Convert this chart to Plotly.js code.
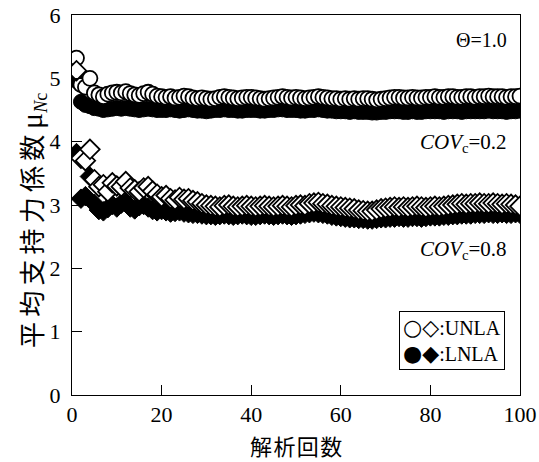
<!DOCTYPE html>
<html>
<head>
<meta charset="utf-8">
<script src="https://cdn.plot.ly/plotly-3.0.1.min.js"></script>
<style>html,body{margin:0;padding:0;background:#fff;}#chart{width:539px;height:462px;}</style>
</head>
<body>
<div id="chart"></div>
<script>
// analysis count 1..100
const runs = Array.from({length: 100}, (_, i) => i + 1);

// UNLA, COVc = 0.2 (open circles)
const unla02 = [
5.32,4.90,4.86,5.00,4.77,4.74,4.71,4.75,4.77,4.78,
4.77,4.79,4.76,4.74,4.73,4.76,4.78,4.75,4.72,4.71,
4.70,4.71,4.69,4.70,4.72,4.71,4.69,4.68,4.69,4.68,
4.67,4.68,4.70,4.71,4.70,4.69,4.68,4.69,4.70,4.70,
4.69,4.68,4.67,4.68,4.69,4.70,4.71,4.70,4.69,4.70,
4.69,4.68,4.69,4.70,4.71,4.70,4.69,4.68,4.68,4.67,
4.68,4.67,4.68,4.67,4.68,4.68,4.67,4.66,4.67,4.68,
4.69,4.70,4.70,4.69,4.69,4.70,4.69,4.69,4.70,4.70,
4.71,4.70,4.70,4.71,4.71,4.70,4.70,4.71,4.71,4.70,
4.71,4.71,4.72,4.71,4.71,4.71,4.70,4.71,4.71,4.72];

// LNLA, COVc = 0.2 (filled circles)
const lnla02 = [
4.96,4.63,4.58,4.56,4.53,4.52,4.50,4.51,4.52,4.53,
4.52,4.53,4.52,4.51,4.50,4.51,4.52,4.51,4.50,4.50,
4.50,4.51,4.50,4.49,4.50,4.51,4.50,4.49,4.49,4.48,
4.49,4.50,4.50,4.51,4.50,4.50,4.49,4.49,4.50,4.50,
4.50,4.49,4.49,4.50,4.50,4.51,4.51,4.50,4.50,4.50,
4.49,4.49,4.50,4.50,4.51,4.50,4.49,4.49,4.48,4.48,
4.48,4.47,4.48,4.47,4.47,4.47,4.46,4.46,4.47,4.47,
4.48,4.48,4.48,4.47,4.47,4.48,4.47,4.47,4.48,4.48,
4.48,4.48,4.47,4.48,4.48,4.48,4.47,4.48,4.48,4.48,
4.48,4.48,4.49,4.48,4.48,4.48,4.47,4.48,4.48,4.49];

// UNLA, COVc = 0.8 (open diamonds)
const unla08 = [
5.12,3.74,3.70,3.88,3.40,3.29,3.32,3.21,3.35,3.30,
3.29,3.37,3.27,3.24,3.21,3.27,3.29,3.22,3.17,3.13,
3.15,3.10,3.08,3.12,3.09,3.10,3.07,3.05,3.02,3.00,
2.99,2.98,2.97,2.99,3.00,2.98,2.97,2.98,2.99,2.98,
2.97,2.98,2.99,2.98,2.97,2.98,2.99,2.98,2.97,2.99,
3.00,2.99,3.02,3.03,3.04,3.02,3.01,2.99,2.98,2.97,
2.96,2.95,2.94,2.92,2.91,2.90,2.90,2.92,2.94,2.95,
2.96,2.97,2.96,2.97,2.96,2.97,2.98,2.97,2.96,2.97,
2.98,2.97,2.98,2.99,3.00,3.01,3.02,3.01,3.02,3.02,
3.03,3.02,3.02,3.03,3.02,3.01,3.02,3.01,3.00,2.98];

// LNLA, COVc = 0.8 (filled diamonds)
const lnla08 = [
3.82,3.10,3.14,3.45,3.02,2.92,2.90,2.95,3.00,2.96,
3.02,3.04,2.96,2.93,2.98,3.00,2.96,2.92,2.90,2.92,
2.90,2.88,2.89,2.90,2.88,2.87,2.86,2.86,2.85,2.84,
2.84,2.83,2.84,2.85,2.84,2.83,2.84,2.85,2.84,2.83,
2.83,2.84,2.85,2.84,2.83,2.84,2.85,2.84,2.83,2.84,
2.85,2.86,2.87,2.88,2.87,2.86,2.85,2.83,2.82,2.81,
2.80,2.79,2.79,2.78,2.78,2.77,2.77,2.78,2.79,2.79,
2.80,2.80,2.81,2.80,2.80,2.81,2.81,2.80,2.81,2.82,
2.82,2.82,2.83,2.83,2.84,2.84,2.85,2.85,2.85,2.86,
2.86,2.86,2.87,2.86,2.86,2.87,2.86,2.86,2.87,2.86];

const xTicks = [0, 20, 40, 60, 80, 100];
const yTicks = [0, 1, 2, 3, 4, 5, 6];

const serif = 'Liberation Serif, Times New Roman, serif';

function filled(y, sym, size) {
  return {x: runs, y: y, type: 'scatter', mode: 'markers', showlegend: false,
    marker: {symbol: sym, size: size, color: '#000', line: {color: '#000', width: 1}}};
}
function open(y, sym, size) {
  return {x: runs, y: y, type: 'scatter', mode: 'markers', showlegend: false,
    marker: {symbol: sym, size: size, color: '#fff', line: {color: '#000', width: 1.8}}};
}

const data = [
  filled(lnla02, 'circle', 15),
  filled(lnla08, 'diamond', 15),
  open(unla02, 'circle', 15),
  open(unla08, 'diamond', 15)
];

const axisCommon = {
  showgrid: false, zeroline: false, showline: true, linecolor: '#000', linewidth: 1,
  mirror: true, ticks: 'inside', ticklen: 10, tickwidth: 1, tickcolor: '#000',
  tickfont: {family: serif, size: 22, color: '#000'}
};

const layout = {
  width: 539, height: 462,
  margin: {l: 72, r: 19, t: 15, b: 67},
  paper_bgcolor: '#fff', plot_bgcolor: '#fff',
  xaxis: Object.assign({}, axisCommon, {range: [0, 100], tickvals: xTicks, ticktext: xTicks.map(String), ticklabelstandoff: 0}),
  yaxis: Object.assign({}, axisCommon, {range: [0, 6], tickvals: yTicks, ticktext: yTicks.map(String), ticklabelstandoff: 6}),
  annotations: [
    {xref: 'paper', yref: 'paper', x: 0.5, y: -0.132, xanchor: 'center', yanchor: 'middle', showarrow: false,
     text: '解\u200a析\u200a回\u200a数', font: {family: 'Noto Sans CJK JP', size: 22, color: '#000'}},
    {xref: 'paper', yref: 'paper', x: -0.092, y: 0.46, xanchor: 'center', yanchor: 'middle', showarrow: false, textangle: -90,
     text: '平\u2009均\u2009支\u2009持\u2009力\u2009係\u2009数 <span style="font-family:Liberation Serif;font-size:30px">μ</span><span style="font-family:Liberation Serif;font-size:26px"><sub><i>N</i>c</sub></span>',
     font: {family: 'Noto Sans CJK JP', size: 26, color: '#000'}},
    {xref: 'paper', yref: 'paper', x: 0.975, y: (395 - 40) / 380, xanchor: 'right', yanchor: 'middle', showarrow: false,
     text: 'Θ=1.0', font: {family: serif, size: 20, color: '#000'}},
    {xref: 'paper', yref: 'paper', x: 0.975, y: (395 - 143) / 380, xanchor: 'right', yanchor: 'middle', showarrow: false,
     text: '<i>COV</i><sub>c</sub>=0.2', font: {family: serif, size: 21, color: '#000'}},
    {xref: 'paper', yref: 'paper', x: 0.975, y: (395 - 250) / 380, xanchor: 'right', yanchor: 'middle', showarrow: false,
     text: '<i>COV</i><sub>c</sub>=0.8', font: {family: serif, size: 21, color: '#000'}},
    {xref: 'paper', yref: 'paper', x: (505 - 72) / 448, y: (395 - 340) / 380, xanchor: 'right', yanchor: 'middle', showarrow: false,
     align: 'left', bordercolor: '#000', borderwidth: 1, borderpad: 3, bgcolor: '#fff',
     text: '<span style="font-family:DejaVu Sans;font-size:22px">○◇</span>:UNLA<br><span style="font-family:DejaVu Sans;font-size:22px">●◆</span>:LNLA',
     font: {family: serif, size: 20, color: '#000'}}
  ]
};

Plotly.newPlot('chart', data, layout, {staticPlot: true, displayModeBar: false});
</script>
</body>
</html>
